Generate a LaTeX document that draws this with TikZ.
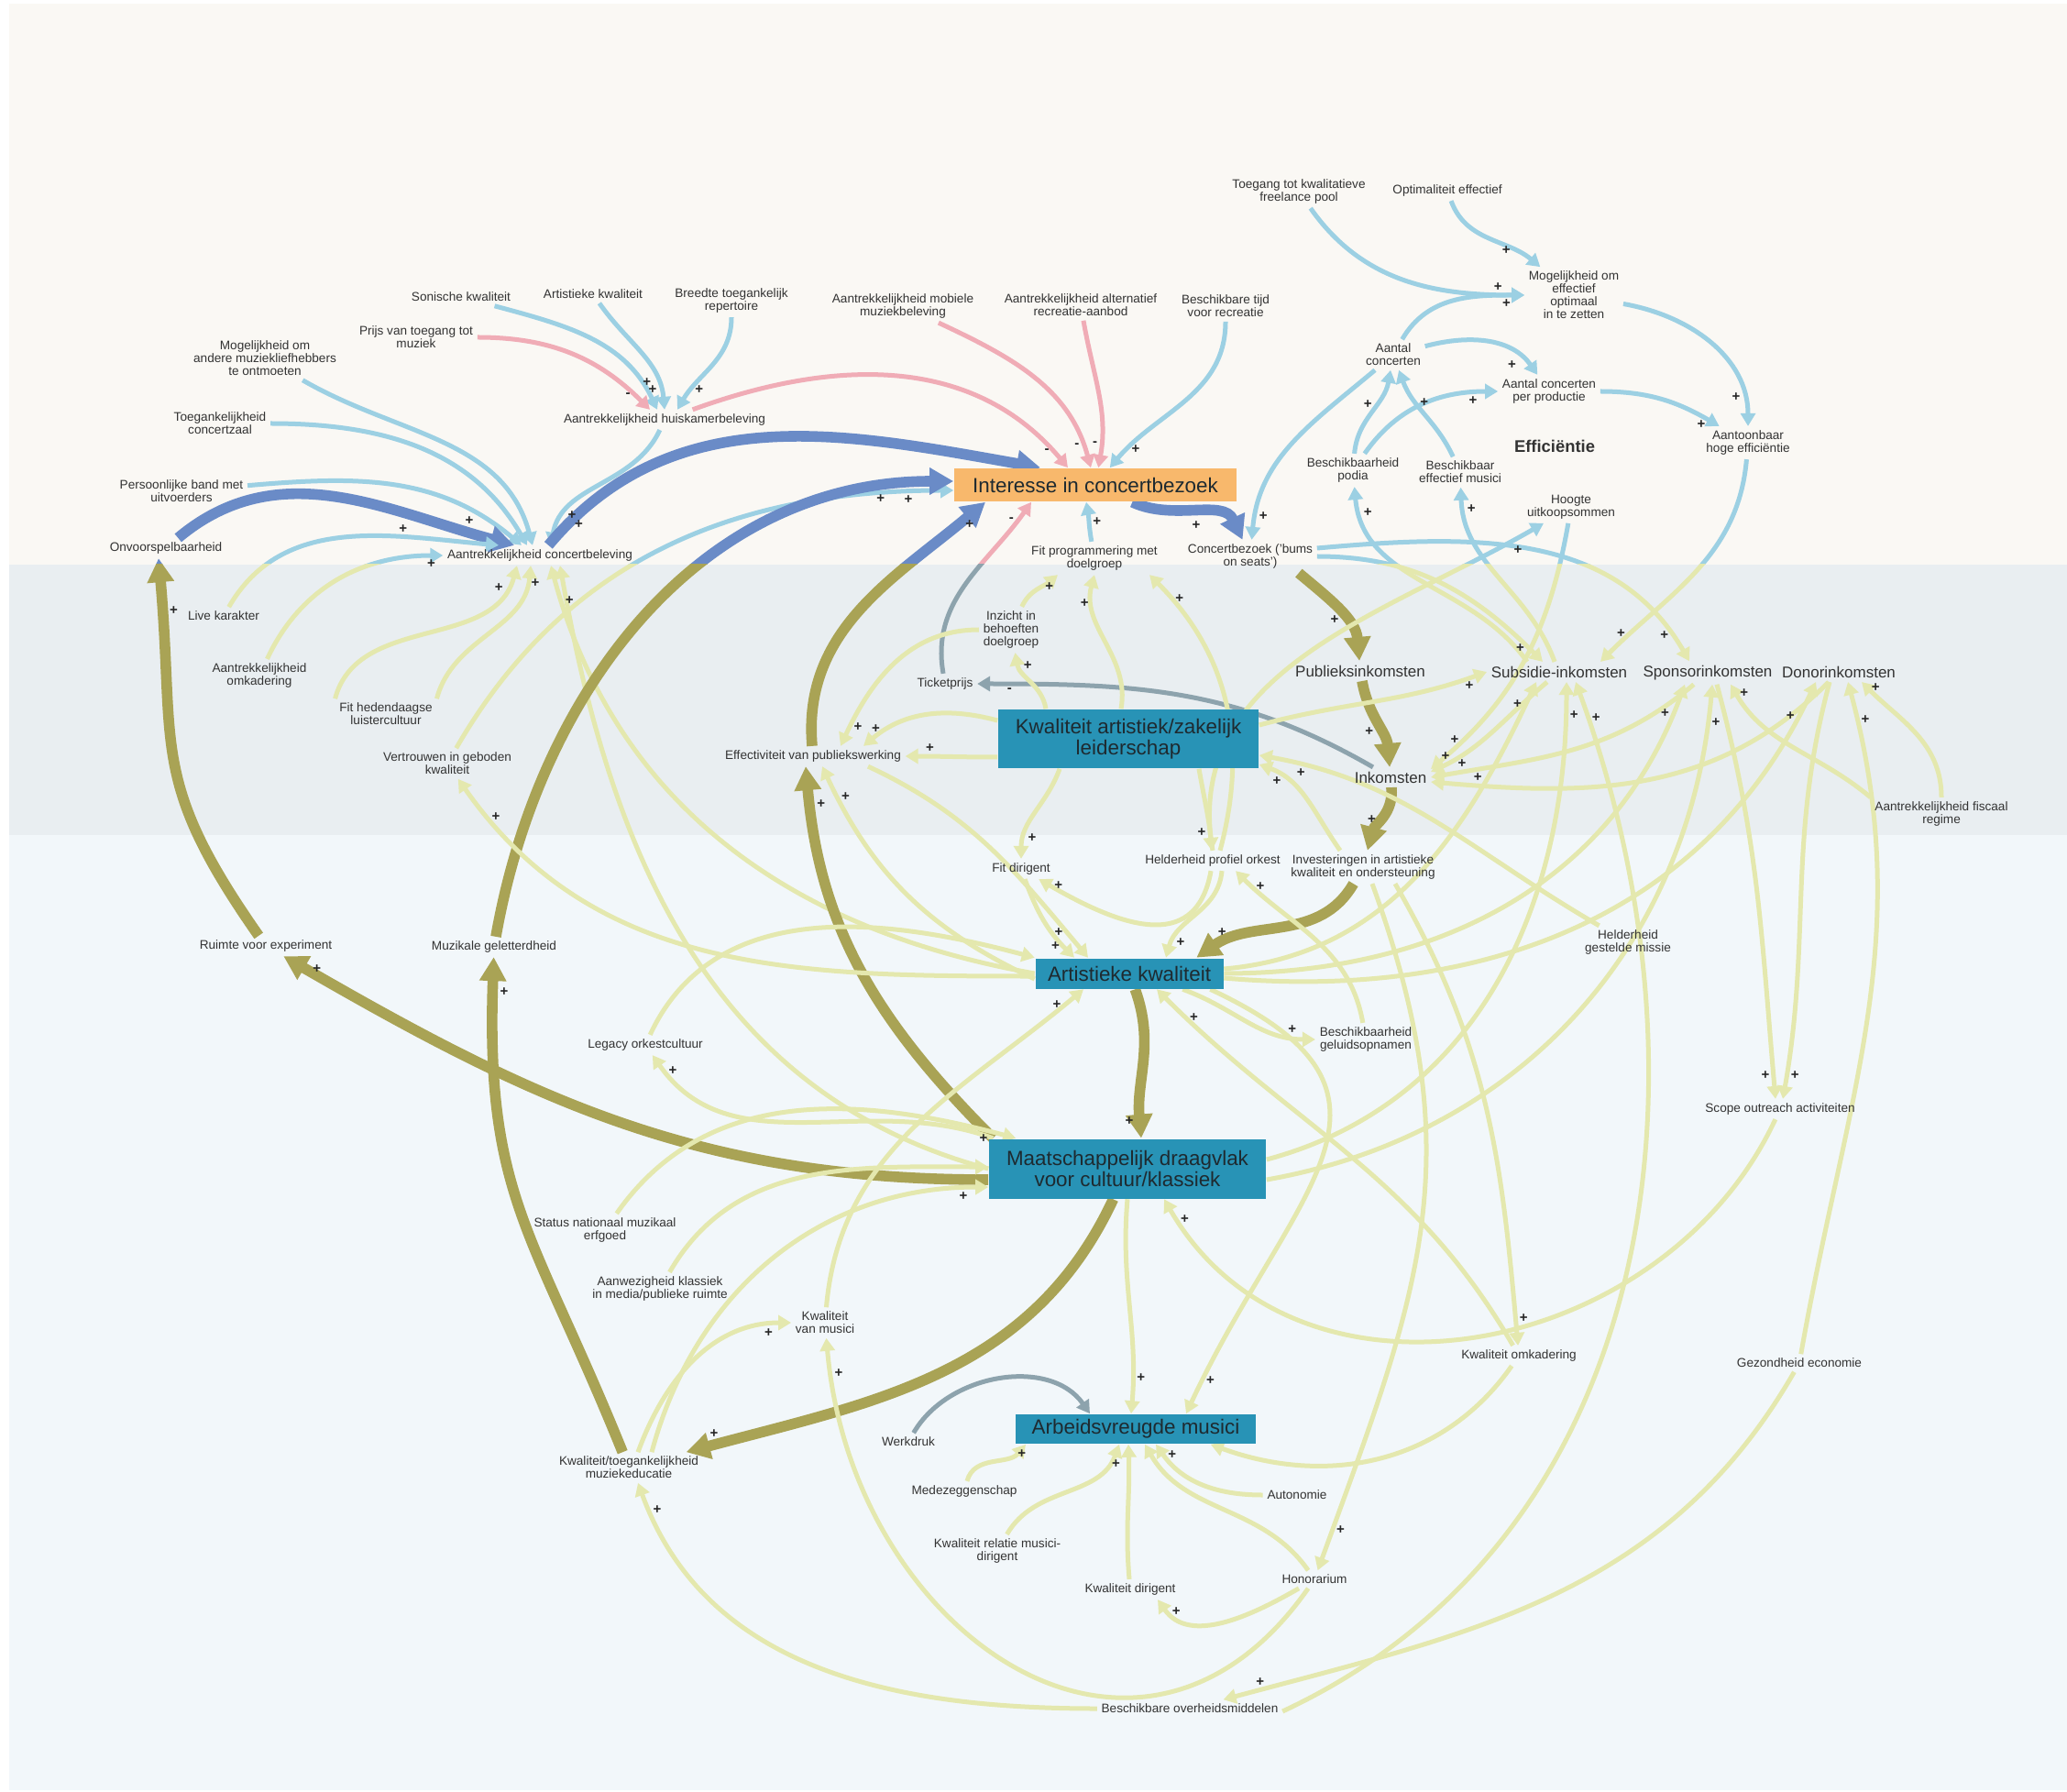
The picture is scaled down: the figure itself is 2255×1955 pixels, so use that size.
\documentclass[tikz,border=0pt]{standalone}
\usepackage{fontspec}
\setmainfont{Liberation Sans}
\usetikzlibrary{arrows.meta}
\pgfdeclarelayer{bg}
\pgfdeclarelayer{links}
\pgfsetlayers{bg,links,main}

\definecolor{bgtop}{HTML}{FAF8F4}
\definecolor{bgmid}{HTML}{E9EEF1}
\definecolor{bgbot}{HTML}{F2F7FA}
\definecolor{lblue}{HTML}{9CD0E3}
\definecolor{lpink}{HTML}{F0ACB6}
\definecolor{dblue}{HTML}{6A8BC7}
\definecolor{lyel}{HTML}{E4E8AE}
\definecolor{lgrey}{HTML}{8DA3AD}
\definecolor{olv}{HTML}{A9A355}
\definecolor{boxteal}{HTML}{2893B6}
\definecolor{boxorange}{HTML}{F8B86C}
\definecolor{ink}{HTML}{333333}
\definecolor{boxtext}{HTML}{1E2A30}

% polarity signs are typeset only in the pass that shows them
\newif\ifshowsigns
\newcommand\pol[1]{\ifshowsigns#1\fi}

% all causal links; drawn once per colour band, then once for the signs
\newcommand\alledges{%
% efficiency cluster
\draw[tp] (toeg) to[out=-55,in=180] node[sg,pos=.9,above]{\pol{+}} (mogeff);
\draw[tp] (optim) to[out=-70,in=140] node[sg,pos=.75,left]{\pol{+}} (mogeff);
\draw[tp] (aantc) to[out=60,in=180] node[sg,pos=.88,below]{\pol{+}} (mogeff);
\draw[tp] (aantc) to[out=15,in=125] node[sg,pos=.8,below left]{\pol{+}} (aantcp);
\draw[tp] (podia) to[out=85,in=-100] node[sg,pos=.6,left]{\pol{+}} (aantc);
\draw[tp] (bmus) to[out=115,in=-70] node[sg,pos=.65,right]{\pol{+}} (aantc);
\draw[tp] (podia) to[out=55,in=180] node[sg,pos=.85,below]{\pol{+}} (aantcp);
\draw[tp] (aantcp) to[out=0,in=150] node[sg,pos=.85,below]{\pol{+}} (aantoon);
\draw[tp] (mogeff) to[out=-10,in=90] node[sg,pos=.85,left]{\pol{+}} (aantoon);
\draw[tp] (aantc) to[out=-140,in=85] node[sg,pos=.9,right]{\pol{+}} (bezoek);
% interest in concert visits
\draw[tk] (interesse) to[out=-25,in=115] node[sg,pos=.6,below left]{\pol{+}} (bezoek);
\draw[tp] (tijd) to[out=-90,in=50] node[sg,pos=.88,right]{\pol{+}} (interesse);
\draw[tn] (altrec) to[out=-80,in=80] node[sg,pos=.85,left]{\pol{-}} (interesse);
\draw[tn] (mobiel) to[out=-25,in=105] node[sg,pos=.9,left]{\pol{-}} (interesse);
\draw[tn] (huiskamer) to[out=20,in=130] node[sg,pos=.95,left]{\pol{-}} ([shift={(-30,0)}]interesse.north);
\draw[tp] (huiskamer) to[out=-115,in=80] node[sg,pos=.8,right]{\pol{+}} ([shift={(12,0)}]concertbel.north);
\draw[tp] (sonisch) to[out=-15,in=115] node[sg,pos=.9,above]{\pol{+}} ([shift={(-8,0)}]huiskamer.north);
\draw[tp] (artkwt) to[out=-55,in=95] node[sg,pos=.85,left]{\pol{+}} (huiskamer.north);
\draw[tp] (breedte) to[out=-90,in=60] node[sg,pos=.8,right]{\pol{+}} ([shift={(14,0)}]huiskamer.north);
\draw[tn] (prijs) to[out=0,in=135] node[sg,pos=.9,left]{\pol{-}} ([shift={(-16,0)}]huiskamer.north);
\draw[tp] (ontmoet) to[out=-30,in=105] ([shift={(-8,0)}]concertbel.north);
\draw[tp] (toegzaal) to[out=0,in=120] ([shift={(-14,0)}]concertbel.north);
\draw[tp] (band) to[out=5,in=140] ([shift={(-20,0)}]concertbel.north);
\draw[tk] (onvoorsp) to[out=40,in=165] node[sg,pos=.88,above]{\pol{+}} ([shift={(-28,0)}]concertbel.north);
\draw[tk] (concertbel) to[out=50,in=170] node[sg,pos=.05,right]{\pol{+}} ([shift={(-60,0)}]interesse.north);
\draw[tp] (live) to[out=60,in=175] node[sg,pos=.7,above]{\pol{+}} ([shift={(-45,0)}]concertbel.north);
\draw[tp] (omkad) to[out=65,in=180] node[sg,pos=.95,below]{\pol{+}} (concertbel.west);
\draw[tp] (fithed.north west) to[out=75,in=-105] node[sg,pos=.9,left]{\pol{+}} ([shift={(-25,0)}]concertbel.south);
\draw[tp] (fithed.north east) to[out=75,in=-95] node[sg,pos=.9,right]{\pol{+}} ([shift={(-10,0)}]concertbel.south);
\draw[tp] (artkw.west) to[out=170,in=-75] node[sg,pos=.95,right]{\pol{+}} ([shift={(12,0)}]concertbel.south);
\draw[tp] (draagvlak.west) to[out=165,in=-80] ([shift={(22,0)}]concertbel.south);
\draw[tp] (vertrouwen) to[out=60,in=180] node[sg,pos=.93,below]{\pol{+}} ([shift={(0,-6)}]interesse.west);
\draw[tk] (geletterd) to[out=80,in=180] node[sg,pos=.9,below]{\pol{+}} ([shift={(0,4)}]interesse.west);
\draw[tk] (effpub) to[out=95,in=-140] node[sg,pos=.9,right]{\pol{+}} ([shift={(-120,0)}]interesse.south);
\draw[tn] (ticket) to[out=100,in=-125] node[sg,pos=.9,left]{\pol{-}} ([shift={(-70,0)}]interesse.south);
\draw[tp] (fitprog) to[out=100,in=-80] node[sg,pos=.5,right]{\pol{+}} ([shift={(-10,0)}]interesse.south);
% revenue chain
\draw[tk] ([shift={(-20,0)}]bezoek.south east) to[out=-40,in=95] node[sg,pos=.6,left]{\pol{+}} (pubink);
\draw[tk] (pubink) to[out=-80,in=95] node[sg,pos=.6,left]{\pol{+}} (inkomsten);
\draw[tk] (inkomsten) to[out=-85,in=75] node[sg,pos=.5,left]{\pol{+}} (invest);
\draw[tk] (invest) to[out=-120,in=35] node[sg,pos=.85,above]{\pol{+}} ([shift={(-30,0)}]artkw.north east);
\draw[tk] (artkw) to[out=-70,in=95] node[sg,pos=.9,left]{\pol{+}} ([shift={(15,0)}]draagvlak.north);
\draw[tk] ([shift={(5,0)}]draagvlak.north west) to[out=135,in=-85] node[sg,pos=.92,right]{\pol{+}} ([shift={(-8,0)}]effpub.south);
\draw[tk] ([shift={(0,-12)}]draagvlak.west) to[out=180,in=-30] node[sg,pos=.97,right]{\pol{+}} (ruimte);
\draw[tk] (ruimte) to[out=125,in=-85,looseness=1.25] node[sg,pos=.9,right]{\pol{+}} ([shift={(-8,0)}]onvoorsp.south);
\draw[tk] (educatie) to[out=112,in=-92,looseness=1.2] node[sg,pos=.95,right]{\pol{+}} (geletterd);
\draw[tk] (draagvlak) to[out=-115,in=15] node[sg,pos=.95,above]{\pol{+}} (educatie);
\draw[tn] (inkomsten) to[out=150,in=0] node[sg,pos=.93,below]{\pol{-}} (ticket);
\draw[tn] (werkdruk) to[out=60,in=125] ([shift={(-50,0)}]arbeid.north);
% leadership and audience work
\draw[tp] ([shift={(-90,0)}]leider.north) to[out=100,in=-80] node[sg,pos=.8,right]{\pol{+}} (inzicht);
\draw[tp] (inzicht) to[out=65,in=-140] node[sg,pos=.6,right]{\pol{+}} ([shift={(-40,0)}]fitprog.south);
\draw[tp] ([shift={(-8,0)}]leider.north) to[out=80,in=-105] node[sg,pos=.8,left]{\pol{+}} (fitprog.south);
\draw[tp] ([shift={(8,0)}]profiel.north) to[out=75,in=-45] node[sg,pos=.9,right]{\pol{+}} ([shift={(60,0)}]fitprog.south);
\draw[tp] (inzicht) to[out=180,in=65] node[sg,pos=.9,right]{\pol{+}} ([shift={(30,0)}]effpub.north);
\draw[tp] ([shift={(0,-20)}]leider.west) to[out=180,in=0] node[sg,pos=.75,above]{\pol{+}} (effpub);
\draw[tp] ([shift={(0,20)}]leider.west) to[out=165,in=40] node[sg,pos=.9,above]{\pol{+}} ([shift={(55,0)}]effpub.north);
\draw[tp] ([shift={(0,-6)}]artkw.west) to[out=155,in=-65] node[sg,pos=.9,right]{\pol{+}} ([shift={(10,0)}]effpub.south);
\draw[tp] ([shift={(60,0)}]effpub.south) to[out=-25,in=130] node[sg,pos=.9,left]{\pol{+}} ([shift={(-45,0)}]artkw.north);
\draw[tp] ([shift={(-75,0)}]leider.south) to[out=-110,in=90] node[sg,pos=.8,right]{\pol{+}} (fitdir);
\draw[tp] (profiel) to[out=-100,in=-30,looseness=1.3] node[sg,pos=.95,right]{\pol{+}} (fitdir);
\draw[tp] (fitdir) to[out=-70,in=135] node[sg,pos=.85,left]{\pol{+}} ([shift={(-60,0)}]artkw.north);
\draw[tp] ([shift={(77,0)}]leider.south) to[out=-80,in=95] node[sg,pos=.8,left]{\pol{+}} (profiel);
\draw[tp] ([shift={(10,0)}]profiel.south) to[out=-95,in=75] node[sg,pos=.85,right]{\pol{+}} ([shift={(40,0)}]artkw.north);
\draw[tp] (opnamen) to[out=100,in=-45] node[sg,pos=.9,right]{\pol{+}} ([shift={(25,0)}]profiel.south);
\draw[tp] ([shift={(-45,0)}]artkw.south east) to[out=-20,in=180] node[sg,pos=.85,above]{\pol{+}} (opnamen.west);
\draw[tp] (profiel.north) to[out=100,in=-150] node[sg,pos=.93,below right]{\pol{+}} ([shift={(-30,0)}]uitkoop.south);
\draw[tp] ([shift={(-25,0)}]invest.north) to[out=125,in=-20] node[sg,pos=.85,below]{\pol{+}} ([shift={(0,-28)}]leider.east);
\draw[tp] (missie) to[out=150,in=-10] node[sg,pos=.9,below]{\pol{+}} ([shift={(0,-18)}]leider.east);
\draw[tp] ([shift={(0,15)}]leider.east) to[out=15,in=-160] node[sg,pos=.93,below]{\pol{+}} (subink.west);
% income streams
\draw[tp] (subink) to[out=-140,in=25] node[sg,pos=.9,above]{\pol{+}} ([shift={(0,6)}]inkomsten.east);
\draw[tp] (sponink) to[out=-140,in=10] node[sg,pos=.9,above]{\pol{+}} (inkomsten.east);
\draw[tp] (donink) to[out=-135,in=-5] node[sg,pos=.9,above]{\pol{+}} ([shift={(0,-5)}]inkomsten.east);
\draw[tp] (uitkoop) to[out=-100,in=40] node[sg,pos=.9,above]{\pol{+}} ([shift={(0,9)}]inkomsten.east);
\draw[tp] (bezoek.east) to[out=0,in=135] node[sg,pos=.93,left]{\pol{+}} ([shift={(-18,0)}]subink.north);
\draw[tp] ([shift={(0,9)}]bezoek.east) to[out=5,in=120] node[sg,pos=.93,left]{\pol{+}} ([shift={(-20,0)}]sponink.north);
\draw[tp] (aantoon) to[out=-95,in=45] node[sg,pos=.9,above]{\pol{+}} ([shift={(45,0)}]subink.north);
\draw[tp] ([shift={(-35,0)}]subink.north) to[out=125,in=-85] node[sg,pos=.9,right]{\pol{+}} (podia);
\draw[tp] ([shift={(-5,0)}]subink.north) to[out=110,in=-88] node[sg,pos=.9,right]{\pol{+}} (bmus);
\draw[tp] ([shift={(0,5)}]artkw.east) to[out=5,in=-115] node[sg,pos=.95,left]{\pol{+}} ([shift={(-25,0)}]subink.south);
\draw[tp] (artkw.east) to[out=0,in=-110] node[sg,pos=.95,left]{\pol{+}} ([shift={(-25,0)}]sponink.south);
\draw[tp] ([shift={(0,-5)}]artkw.east) to[out=-5,in=-115] node[sg,pos=.95,left]{\pol{+}} ([shift={(-25,0)}]donink.south);
\draw[tp] ([shift={(0,10)}]draagvlak.east) to[out=15,in=-90] node[sg,pos=.95,right]{\pol{+}} ([shift={(8,0)}]subink.south);
\draw[tp] ([shift={(0,-12)}]draagvlak.east) to[out=10,in=-95] node[sg,pos=.95,right]{\pol{+}} ([shift={(5,0)}]sponink.south);
\draw[tp] ([shift={(10,0)}]sponink.south) to[out=-75,in=95] node[sg,pos=.95,left]{\pol{+}} ([shift={(-5,0)}]outreach.north);
\draw[tp] ([shift={(-10,0)}]donink.south) to[out=-105,in=80] node[sg,pos=.95,right]{\pol{+}} ([shift={(3,0)}]outreach.north);
\draw[tp] (outreach) to[out=-115,in=-60,looseness=1.1] node[sg,pos=.97,right]{\pol{+}} ([shift={(40,0)}]draagvlak.south);
\draw[tp] (economie) to[out=80,in=-75] node[sg,pos=.95,right]{\pol{+}} ([shift={(10,0)}]donink.south);
\draw[tp] (economie) to[out=-120,in=15] node[sg,pos=.95,above]{\pol{+}} (overheid);
\draw[tp] ([shift={(0,-3)}]overheid.east) to[out=25,in=-70] node[sg,pos=.97,right]{\pol{+}} ([shift={(18,0)}]subink.south);
\draw[tp] (fiscaal) to[out=90,in=-45] node[sg,pos=.95,right]{\pol{+}} ([shift={(25,0)}]donink.south);
\draw[tp] (fiscaal.north west) to[out=140,in=-60] node[sg,pos=.95,right]{\pol{+}} ([shift={(25,0)}]sponink.south);
% musicians and education
\draw[tp] (overheid.west) to[out=180,in=-70] node[sg,pos=.95,right]{\pol{+}} ([shift={(10,0)}]educatie.south);
\draw[tp] (honorarium) to[out=-125,in=-85,looseness=1.4] node[sg,pos=.96,right]{\pol{+}} (kwmus);
\draw[tp] (honorarium) to[out=-150,in=-55] node[sg,pos=.9,right]{\pol{+}} ([shift={(30,0)}]kwdir.south);
\draw[tp] (honorarium) to[out=125,in=-60] ([shift={(10,0)}]arbeid.south);
\draw[tp] (kwdir) to[out=95,in=-88] ([shift={(-8,0)}]arbeid.south);
\draw[tp] (relatie) to[out=60,in=-110] node[sg,pos=.85,right]{\pol{+}} ([shift={(-18,0)}]arbeid.south);
\draw[tp] (medez) to[out=75,in=-130] node[sg,pos=.8,right]{\pol{+}} ([shift={(-120,0)}]arbeid.south);
\draw[tp] (autonomie) to[out=180,in=-55] node[sg,pos=.9,right]{\pol{+}} ([shift={(22,0)}]arbeid.south);
\draw[tp] (kwomk) to[out=-125,in=-20] ([shift={(-50,0)}]arbeid.south east);
\draw[tp] (draagvlak.south) to[out=-95,in=85] node[sg,pos=.85,right]{\pol{+}} ([shift={(-5,0)}]arbeid.north);
\draw[tp] ([shift={(-15,0)}]artkw.south east) to[out=-25,in=65,looseness=1.5] node[sg,pos=.95,right]{\pol{+}} ([shift={(55,0)}]arbeid.north);
\draw[tp] ([shift={(10,0)}]invest.south) to[out=-70,in=70,looseness=1.1] node[sg,pos=.95,right]{\pol{+}} (honorarium);
\draw[tp] ([shift={(35,0)}]invest.south) to[out=-60,in=95] node[sg,pos=.95,right]{\pol{+}} (kwomk);
\draw[tp] (kwomk) to[out=120,in=-45] node[sg,pos=.93,right]{\pol{+}} ([shift={(30,0)}]artkw.south);
\draw[tp] (kwmus) to[out=85,in=-140] node[sg,pos=.95,left]{\pol{+}} ([shift={(-50,0)}]artkw.south);
\draw[tp] ([shift={(10,0)}]educatie.north) to[out=70,in=180] node[sg,pos=.9,below]{\pol{+}} (kwmus.west);
\draw[tp] ([shift={(25,0)}]educatie.north) to[out=75,in=180] node[sg,pos=.95,below]{\pol{+}} ([shift={(0,-20)}]draagvlak.west);
\draw[tp] (media) to[out=60,in=180] ([shift={(0,2)}]draagvlak.west);
\draw[tp] (status) to[out=55,in=165] node[sg,pos=.93,below]{\pol{+}} ([shift={(30,0)}]draagvlak.north west);
\draw[tp] (legacy) to[out=65,in=165] (artkw.north west);
\draw[tp] ([shift={(5,0)}]draagvlak.north west) to[out=160,in=-55] node[sg,pos=.95,right]{\pol{+}} (legacy);
\draw[tp] ([shift={(0,-3)}]artkw.west) to[out=180,in=-55] node[sg,pos=.93,right]{\pol{+}} (vertrouwen);
}

\begin{document}
\begin{tikzpicture}[x=0.25pt,y=0.25pt,
  lbl/.style={align=center,font=\fontsize{3.4}{3.5}\selectfont,text=ink,inner sep=1pt},
  midlbl/.style={font=\fontsize{4.25}{4.75}\selectfont,text=ink,inner sep=1pt},
  bigbox/.style={align=center,font=\fontsize{5.6}{5.75}\selectfont,text=boxtext,fill=boxteal,inner sep=0pt},
  sg/.style={font=\fontsize{3.75}{3.75}\selectfont\bfseries,text=black!85,inner sep=0.5pt},
  thinarrow/.style={-{Triangle[length=3.5pt,width=4pt]},line width=1.25pt},
  thickarrow/.style={-{Triangle[length=6.5pt,width=7pt]},line width=2.9pt},
]
\useasboundingbox (0,0) rectangle (2255,-1955);

% colour bands
\begin{pgfonlayer}{bg}
\fill[white] (0,0) rectangle (2255,-1955);
\fill[bgtop] (10,-4) rectangle (2255,-616);
\fill[bgmid] (10,-616) rectangle (2255,-911);
\fill[bgbot] (10,-911) rectangle (2255,-1953);
\end{pgfonlayer}

% ---- variables, upper band
\node[lbl] (toeg) at (1417,-209) {Toegang tot kwalitatieve\\freelance pool};
\node[lbl] (optim) at (1579,-208) {Optimaliteit effectief};
\node[lbl] (mogeff) at (1717,-322) {Mogelijkheid om\\effectief\\optimaal\\in te zetten};
\node[lbl] (aantc) at (1520,-387) {Aantal\\concerten};
\node[lbl] (aantcp) at (1690,-427) {Aantal concerten\\per productie};
\node[lbl] (aantoon) at (1907,-483) {Aantoonbaar\\hoge efficiëntie};
\node[font=\fontsize{4.6}{5}\selectfont\bfseries,text=ink] (effic) at (1696,-487) {Efficiëntie};
\node[lbl] (podia) at (1476,-513) {Beschikbaarheid\\podia};
\node[lbl] (bmus) at (1593,-515) {Beschikbaar\\effectief musici};
\node[lbl] (uitkoop) at (1714,-553) {Hoogte\\uitkoopsommen};
\node[lbl] (bezoek) at (1364,-607) {Concertbezoek ('bums\\on seats')};
\node[bigbox,fill=boxorange,minimum width=77pt,minimum height=9pt] (interesse) at (1195,-529) {Interesse in concertbezoek};
\node[lbl] (fitprog) at (1194,-609) {Fit programmering met\\doelgroep};
\node[lbl] (tijd) at (1337,-334) {Beschikbare tijd\\voor recreatie};
\node[lbl] (altrec) at (1179,-333) {Aantrekkelijkheid alternatief\\recreatie-aanbod};
\node[lbl] (mobiel) at (985,-334) {Aantrekkelijkheid mobiele\\muziekbeleving};
\node[lbl] (breedte) at (798,-328) {Breedte toegankelijk\\repertoire};
\node[lbl] (artkwt) at (647,-321) {Artistieke kwaliteit};
\node[lbl] (sonisch) at (503,-324) {Sonische kwaliteit};
\node[lbl] (prijs) at (454,-368) {Prijs van toegang tot\\muziek};
\node[lbl] (ontmoet) at (289,-391) {Mogelijkheid om\\andere muziekliefhebbers\\te ontmoeten};
\node[lbl] (toegzaal) at (240,-462) {Toegankelijkheid\\concertzaal};
\node[lbl] (band) at (198,-536) {Persoonlijke band met\\uitvoerders};
\node[lbl] (onvoorsp) at (181,-598) {Onvoorspelbaarheid};
\node[lbl] (huiskamer) at (725,-458) {Aantrekkelijkheid huiskamerbeleving};
\node[lbl] (concertbel) at (589,-606) {Aantrekkelijkheid concertbeleving};

% ---- variables, middle band
\node[lbl] (live) at (244,-672) {Live karakter};
\node[lbl] (omkad) at (283,-737) {Aantrekkelijkheid\\omkadering};
\node[lbl] (fithed) at (421,-779) {Fit hedendaagse\\luistercultuur};
\node[lbl] (vertrouwen) at (488,-833) {Vertrouwen in geboden\\kwaliteit};
\node[lbl] (inzicht) at (1103,-687) {Inzicht in\\behoeften\\doelgroep};
\node[lbl] (ticket) at (1031,-746) {Ticketprijs};
\node[bigbox,minimum width=71pt,minimum height=16pt] (leider) at (1231,-806) {Kwaliteit artistiek/zakelijk\\leiderschap};
\node[lbl] (effpub) at (887,-825) {Effectiviteit van publiekswerking};
\node[midlbl] (pubink) at (1484,-732) {Publieksinkomsten};
\node[midlbl] (subink) at (1701,-733) {Subsidie-inkomsten};
\node[midlbl] (sponink) at (1863,-734) {Sponsorinkomsten};
\node[midlbl] (donink) at (2006,-733) {Donorinkomsten};
\node[midlbl] (inkomsten) at (1517,-848) {Inkomsten};
\node[lbl] (fiscaal) at (2118,-888) {Aantrekkelijkheid fiscaal\\regime};

% ---- variables, lower band
\node[lbl] (fitdir) at (1114,-948) {Fit dirigent};
\node[lbl] (profiel) at (1323,-939) {Helderheid profiel orkest};
\node[lbl] (invest) at (1487,-946) {Investeringen in artistieke\\kwaliteit en ondersteuning};
\node[lbl] (missie) at (1776,-1028) {Helderheid\\gestelde missie};
\node[lbl] (ruimte) at (290,-1032) {Ruimte voor experiment};
\node[lbl] (geletterd) at (539,-1033) {Muzikale geletterdheid};
\node[bigbox,minimum width=51.25pt,minimum height=8.25pt] (artkw) at (1232,-1062) {Artistieke kwaliteit};
\node[lbl] (legacy) at (704,-1140) {Legacy orkestcultuur};
\node[lbl] (opnamen) at (1490,-1134) {Beschikbaarheid\\geluidsopnamen};
\node[lbl] (outreach) at (1942,-1210) {Scope outreach activiteiten};
\node[bigbox,minimum width=75.5pt,minimum height=16.25pt] (draagvlak) at (1230,-1275) {Maatschappelijk draagvlak\\voor cultuur/klassiek};
\node[lbl] (status) at (660,-1342) {Status nationaal muzikaal\\erfgoed};
\node[lbl] (media) at (720,-1406) {Aanwezigheid klassiek\\in media/publieke ruimte};
\node[lbl] (kwmus) at (900,-1443) {Kwaliteit\\van musici};
\node[lbl] (kwomk) at (1657,-1479) {Kwaliteit omkadering};
\node[lbl] (economie) at (1963,-1487) {Gezondheid economie};
\node[bigbox,minimum width=65.5pt,minimum height=8pt] (arbeid) at (1239,-1559) {Arbeidsvreugde musici};
\node[lbl] (werkdruk) at (991,-1573) {Werkdruk};
\node[lbl] (educatie) at (686,-1601) {Kwaliteit/toegankelijkheid\\muziekeducatie};
\node[lbl] (medez) at (1052,-1627) {Medezeggenschap};
\node[lbl] (autonomie) at (1415,-1631) {Autonomie};
\node[lbl] (relatie) at (1088,-1692) {Kwaliteit relatie musici-\\dirigent};
\node[lbl] (honorarium) at (1434,-1723) {Honorarium};
\node[lbl] (kwdir) at (1233,-1734) {Kwaliteit dirigent};
\node[lbl] (overheid) at (1298,-1864) {Beschikbare overheidsmiddelen};

% ---- links: blue/pink in the upper band, olive/yellow/grey below
\begin{pgfonlayer}{links}
\showsignsfalse
\begin{scope}
  \clip (0,0) rectangle (2255,-616);
  \tikzset{tp/.style={thinarrow,color=lblue},
           tn/.style={thinarrow,color=lpink},
           tk/.style={thickarrow,color=dblue}}
  \alledges
\end{scope}
\begin{scope}
  \clip (0,-616) rectangle (2255,-1955);
  \tikzset{tp/.style={thinarrow,color=lyel},
           tn/.style={thinarrow,color=lgrey},
           tk/.style={thickarrow,color=olv}}
  \alledges
\end{scope}
\end{pgfonlayer}
% ---- polarity signs, set once on top of everything
\showsignstrue
\begin{scope}
  \tikzset{tp/.style={thinarrow,draw=none},
           tn/.style={thinarrow,draw=none},
           tk/.style={thickarrow,draw=none}}
  \alledges
\end{scope}
\end{tikzpicture}
\end{document}
